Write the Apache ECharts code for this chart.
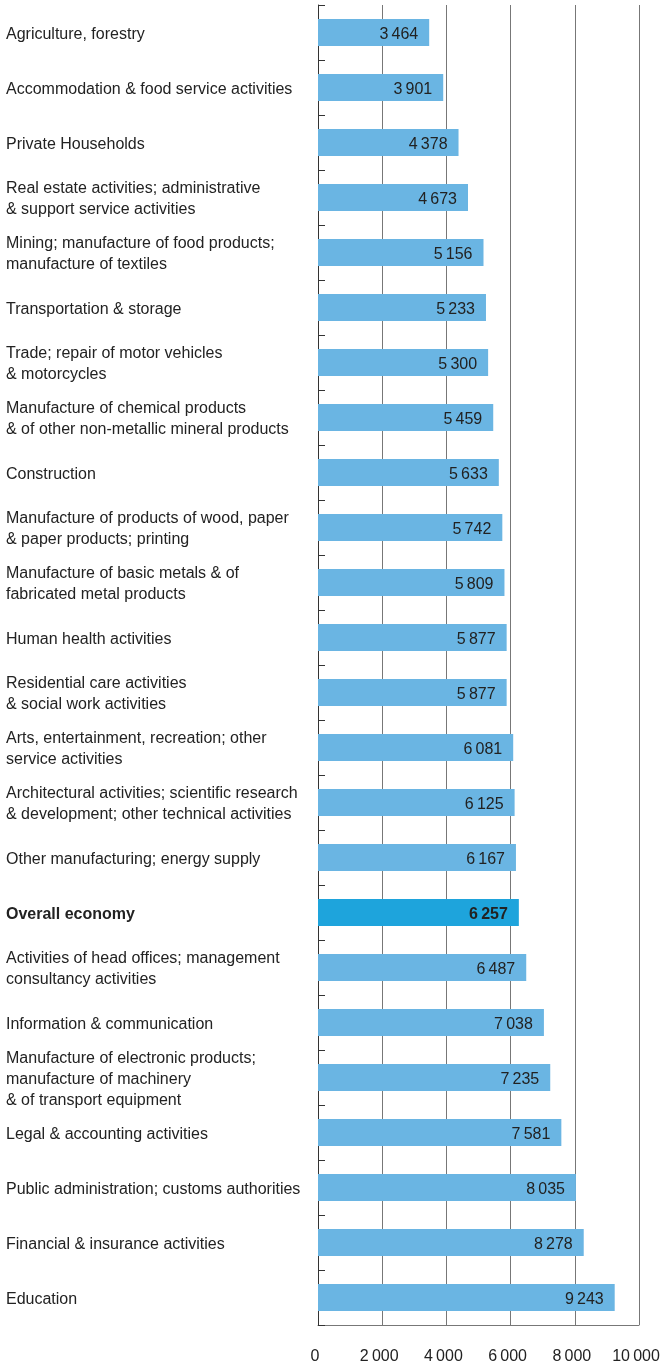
<!DOCTYPE html>
<html>
<head>
<meta charset="utf-8">
<script src="https://cdn.jsdelivr.net/npm/echarts@6/dist/echarts.min.js"></script>
<style>
  html, body { margin: 0; padding: 0; background: #fff; }
  #main { width: 668px; height: 1364px; }
</style>
</head>
<body>
<div id="main"></div>
<script>
var categories = [
  'Agriculture, forestry',
  'Accommodation & food service activities',
  'Private Households',
  'Real estate activities; administrative\n& support service activities',
  'Mining; manufacture of food products;\nmanufacture of textiles',
  'Transportation & storage',
  'Trade; repair of motor vehicles\n& motorcycles',
  'Manufacture of chemical products\n& of other non-metallic mineral products',
  'Construction',
  'Manufacture of products of wood, paper\n& paper products; printing',
  'Manufacture of basic metals & of\nfabricated metal products',
  'Human health activities',
  'Residential care activities\n& social work activities',
  'Arts, entertainment, recreation; other\nservice activities',
  'Architectural activities; scientific research\n& development; other technical activities',
  'Other manufacturing; energy supply',
  'Overall economy',
  'Activities of head offices; management\nconsultancy activities',
  'Information & communication',
  'Manufacture of electronic products;\nmanufacture of machinery\n& of transport equipment',
  'Legal & accounting activities',
  'Public administration; customs authorities',
  'Financial & insurance activities',
  'Education'
];
var values = [3464, 3901, 4378, 4673, 5156, 5233, 5300, 5459, 5633, 5742, 5809, 5877,
  5877, 6081, 6125, 6167, 6257, 6487, 7038, 7235, 7581, 8035, 8278, 9243];
var highlight = 'Overall economy';

function fmt(v) {
  return String(v).replace(/\B(?=(\d{3})+(?!\d))/g, '\u2009');
}

var chart = echarts.init(document.getElementById('main'));
var font = '"Liberation Sans", Arial, sans-serif';

var option = {
  animation: false,
  grid: { left: 318, right: 29, top: 5, bottom: 39, outerBoundsMode: 'none', containLabel: false },
  xAxis: {
    type: 'value',
    min: 0,
    max: 10000,
    interval: 2000,
    axisLine: { show: true, lineStyle: { color: '#777', width: 1 } },
    axisTick: { show: false },
    splitLine: { lineStyle: { color: '#777', width: 1 } },
    axisLabel: {
      margin: 24,
      color: '#222',
      fontSize: 16,
      fontFamily: font,
      padding: [0, 6, 0, 0],
      formatter: function (v) { return fmt(v); }
    }
  },
  yAxis: {
    type: 'category',
    inverse: true,
    data: categories,
    axisLine: { show: true, lineStyle: { color: '#333', width: 1 } },
    axisTick: { show: true, inside: true, length: 7, lineStyle: { color: '#333' } },
    axisLabel: {
      align: 'left',
      margin: 312,
      color: '#222',
      fontSize: 16,
      lineHeight: 21,
      padding: [4, 0, 0, 0],
      fontFamily: font,
      formatter: function (v) {
        return v === highlight ? '{b|' + v + '}' : v;
      },
      rich: {
        b: { fontWeight: 'bold', fontSize: 16, color: '#222', fontFamily: font }
      }
    }
  },
  series: [{
    type: 'bar',
    barWidth: 27,
    data: values.map(function (v, i) {
      return {
        value: v,
        itemStyle: { color: categories[i] === highlight ? '#1EA4DC' : '#6AB5E3' },
        label: categories[i] === highlight ? { fontWeight: 'bold' } : undefined
      };
    }),
    label: {
      show: true,
      position: 'insideRight',
      distance: 11,
      offset: [0, 2],
      color: '#222',
      fontSize: 16,
      fontFamily: font,
      formatter: function (p) { return fmt(p.value); }
    }
  }]
};
chart.setOption(option);
</script>
</body>
</html>
